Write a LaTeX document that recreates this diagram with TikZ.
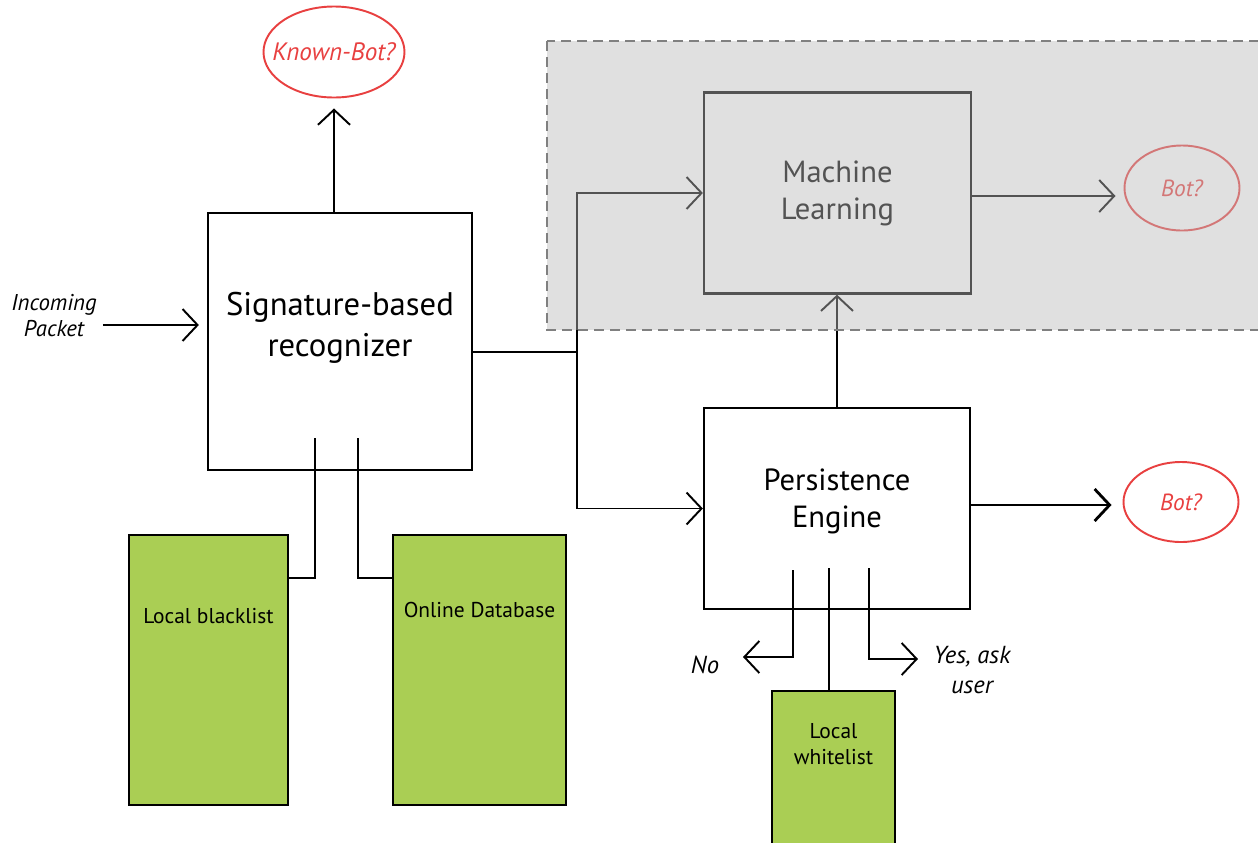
\documentclass[tikz,border=0pt]{standalone}
\usepackage{fontspec}
\setmainfont{PT Sans}
\usetikzlibrary{arrows.meta,calc,shapes.geometric,positioning}
\definecolor{dbgreen}{RGB}{170,206,84}
\definecolor{botred}{RGB}{232,64,64}
\definecolor{learngray}{rgb}{0.73,0.73,0.73}
\tikzset{
  block/.style={
    draw,
    line width=1.3pt,
    align=center,
    font=\fontsize{17.4}{21}\selectfont
  },
  store/.style={
    draw,
    line width=1.2pt,
    fill=dbgreen
  },
  storelbl/.style={align=center, font=\fontsize{12.2}{14.8}\selectfont},
  verdict/.style={
    draw=botred,
    line width=1.1pt,
    ellipse,
    inner sep=0pt,
    text=botred,
    font=\fontsize{13.3}{15}\selectfont\itshape
  },
  note/.style={align=center, font=\fontsize{14}{17.6}\selectfont\itshape}
}
\begin{document}
\begin{tikzpicture}[
    x=0.2mm,
    y=-0.2mm,
    flow/.style={
      line width=1.1pt,
      -{Straight Barb[length=3mm,width=6.4mm]}
    },
    heavyflow/.style={
      flow,
      line width=1.6pt
    },
    link/.style={
      line width=1.1pt
    }
  ]
  \clip (0,0) rectangle (1258,842);
  \node[block,minimum width=52.8mm,minimum height=51.4mm,text depth=6.8mm,font=\fontsize{18.6}{23.3}\selectfont] (sig) at (340,341.5) {Signature-based\\recognizer};
  \node[verdict,minimum width=28.2mm,minimum height=18.2mm,inner xsep=-3mm,font=\fontsize{14.3}{16}\selectfont\itshape] (knownbot) at (334,52) {Known-Bot?};
  \node[note,font=\fontsize{13}{14.8}\selectfont\itshape] (incoming) at (54,316) {Incoming\\Packet};
  \node[store,minimum width=31.8mm,minimum height=54mm] (blacklist) at (208.5,670) {};
  \node[storelbl,yshift=-16.4mm] (bltxt) at(blacklist.north) {Local blacklist};
  \node[store,minimum width=34.6mm,minimum height=54mm] (online) at (479.5,670) {};
  \node[storelbl,yshift=-15.2mm] (dbtxt) at(online.north) {Online Database};
  \node[block,minimum width=53.2mm,minimum height=40.2mm,text depth=4mm] (persist) at (837,508.5) {Persistence\\Engine};
  \node[store,minimum width=24.6mm,minimum height=33.8mm] (whitelist) at (833.5,775.5) {};
  \node[storelbl,yshift=-10.8mm] (wltxt) at(whitelist.north) {Local\\whitelist};
  \node[block,minimum width=53.4mm,minimum height=40.2mm] (ml) at (837.5,193) {Machine\\Learning};
  \node[verdict,minimum width=23mm,minimum height=17mm] (botml) at (1182,188) {Bot?};
  \node[verdict,minimum width=23mm,minimum height=16mm] (botpe) at (1181,502) {Bot?};
  \node[note] (no) at (705,665) {No};
  \node[note] (yes) at (972,670) {Yes, ask\\user};
  % signature stage
  \draw[flow,shorten >=2mm] (knownbot.south |- sig.north) -- (knownbot.south);
  \draw[flow] ($(incoming.east)+(0,9)$) -- ($(incoming.east -| sig.west)+(-8,9)$);
  \coordinate (bltap) at (315,438);
  \coordinate (dbtap) at (358,438);
  \draw[link] (bltap) |- ($(blacklist.north east)+(0,44)$);
  \draw[link] (dbtap) |- ($(online.north west)+(0,44)$);
  \coordinate (split) at (577,352);
  \draw[link] (split -| sig.east) -- (split);
  \draw[flow] (split) |- (ml.west);
  \draw[flow] (split) |- (persist.west);
  % persistence stage
  \draw[flow] (persist.north) -- (persist.north |- ml.south);
  \draw[heavyflow,shorten >=2.2mm] ($(persist.east)+(0,-3.5)$) -- ($(persist.east -| botpe.west)+(0,-3.5)$);
  \draw[flow,shorten >=1.6mm] ($(ml.east)+(0,3)$) -- ($(ml.east -| botml.west)+(0,3)$);
  \coordinate (notap) at (793,570);
  \coordinate (noend) at (743,657);
  \draw[flow] (notap) |- (noend);
  \coordinate (wltap) at (829,568);
  \draw[link] (wltap) -- (wltap |- whitelist.north);
  \coordinate (yestap) at (869,568);
  \coordinate (yesend) at (918,659);
  \draw[flow] (yestap) |- (yesend);
  % learning stage
  \fill[learngray,fill opacity=0.45] (547,41) rectangle (1270,330);
  \draw[gray,line width=0.9pt,dash pattern=on 2mm off 1.2mm] (547,41) rectangle (1270,330);
\end{tikzpicture}
\end{document}
